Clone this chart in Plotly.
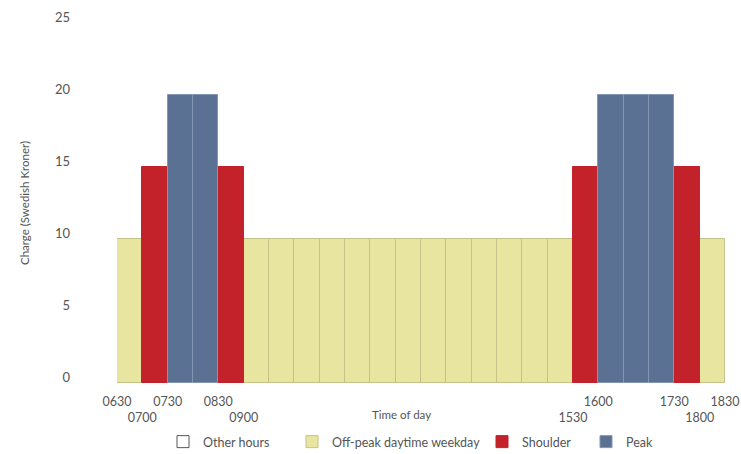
import plotly.graph_objects as go

# Half-hour charging slots (start time in hours) and the charge in each slot
slot_start = [6.5, 7.0, 7.5, 8.0, 8.5, 9.0, 9.5, 10.0, 10.5, 11.0, 11.5, 12.0,
              12.5, 13.0, 13.5, 14.0, 14.5, 15.0, 15.5, 16.0, 16.5, 17.0, 17.5, 18.0]
charge_sek = [10, 15, 20, 20, 15, 10, 10, 10, 10, 10, 10, 10,
              10, 10, 10, 10, 10, 10, 15, 20, 20, 20, 15, 10]
period = ["Off-peak daytime weekday", "Shoulder", "Peak", "Peak", "Shoulder",
          "Off-peak daytime weekday", "Off-peak daytime weekday", "Off-peak daytime weekday",
          "Off-peak daytime weekday", "Off-peak daytime weekday", "Off-peak daytime weekday",
          "Off-peak daytime weekday", "Off-peak daytime weekday", "Off-peak daytime weekday",
          "Off-peak daytime weekday", "Off-peak daytime weekday", "Off-peak daytime weekday",
          "Off-peak daytime weekday", "Shoulder", "Peak", "Peak", "Peak", "Shoulder",
          "Off-peak daytime weekday"]

categories = ["Other hours", "Off-peak daytime weekday", "Shoulder", "Peak"]

# Time-axis labels: upper row and lower row alternate
tick_hours_upper = [6.5, 7.5, 8.5, 16.0, 17.5, 18.5]
tick_text_upper = ["0630", "0730", "0830", "1600", "1730", "1830"]
tick_hours_lower = [7.0, 9.0, 15.5, 18.0]
tick_text_lower = ["0700", "0900", "1530", "1800"]

y_ticks = [0, 5, 10, 15, 20, 25]

fill = {"Other hours": "#ffffff", "Off-peak daytime weekday": "#e7e59f",
        "Shoulder": "#c3222b", "Peak": "#5a7194"}
edge = {"Other hours": "#555555", "Off-peak daytime weekday": "#c4c28a",
        "Shoulder": "#c3222b", "Peak": "#8397b5"}

FONT = "Lato, 'Open Sans', sans-serif"
TXT = "#555555"

# pixel x of each legend entry – one legend per category
legend_px = [163, 292, 482, 586]
W, H = 741, 454
L, R, T, B = 117, 16, 23, 71
pw = W - L - R
ph = H - T - B

fig = go.Figure()
for i, cat in enumerate(categories):
    xs = [s for s, p in zip(slot_start, period) if p == cat]
    ys = [c for c, p in zip(charge_sek, period) if p == cat]
    if not xs:
        # no slots in this category: a zero-height bar keeps the legend key
        xs, ys = [slot_start[0]], [0]
    fig.add_trace(go.Bar(
        x=xs, y=ys, name=cat, width=0.5, offset=0, showlegend=True,
        marker=dict(color=fill[cat], line=dict(color=edge[cat], width=1)),
        legend="legend" if i == 0 else f"legend{i + 1}",
        hoverinfo="skip",
    ))

tickvals = tick_hours_upper + tick_hours_lower
ticktext = tick_text_upper + ["<br>" + t for t in tick_text_lower]

layout_legends = {}
for i, px in enumerate(legend_px):
    key = "legend" if i == 0 else f"legend{i + 1}"
    layout_legends[key] = dict(
        x=(px - L) / pw, xanchor="left",
        y=(H - B - 442) / ph, yanchor="middle",
        orientation="h", bgcolor="rgba(0,0,0,0)", borderwidth=0,
        font=dict(family=FONT, size=12.5, color=TXT),
    )

fig.update_layout(
    width=W, height=H,
    margin=dict(l=L, r=R, t=T, b=B, autoexpand=False),
    paper_bgcolor="white", plot_bgcolor="white",
    bargap=0, barmode="overlay", showlegend=True,
    font=dict(family=FONT, size=12, color=TXT),
    **layout_legends,
    xaxis=dict(range=[6.5, 18.5], tickmode="array", tickvals=tickvals, ticktext=ticktext,
               showgrid=False, zeroline=False, showline=False, ticks="",
               tickfont=dict(family=FONT, size=12.5, color=TXT),
               ticklabelstandoff=9, automargin=False),
    yaxis=dict(range=[0, 25], tickmode="array", tickvals=y_ticks,
               showgrid=False, zeroline=False, showline=False, ticks="",
               tickfont=dict(family=FONT, size=13, color=TXT),
               ticklabelstandoff=46, ticklabelshift=-6, automargin=False,
               title=dict(text="Charge (Swedish Kroner)", standoff=22,
                          font=dict(family=FONT, size=11.5, color=TXT))),
    annotations=[dict(text="Time of day", xref="paper", yref="paper",
                      x=(401 - L) / pw, y=(H - B - 415) / ph,
                      xanchor="center", yanchor="middle", showarrow=False,
                      font=dict(family=FONT, size=11.5, color=TXT))],
)

fig.write_html("out.html")
